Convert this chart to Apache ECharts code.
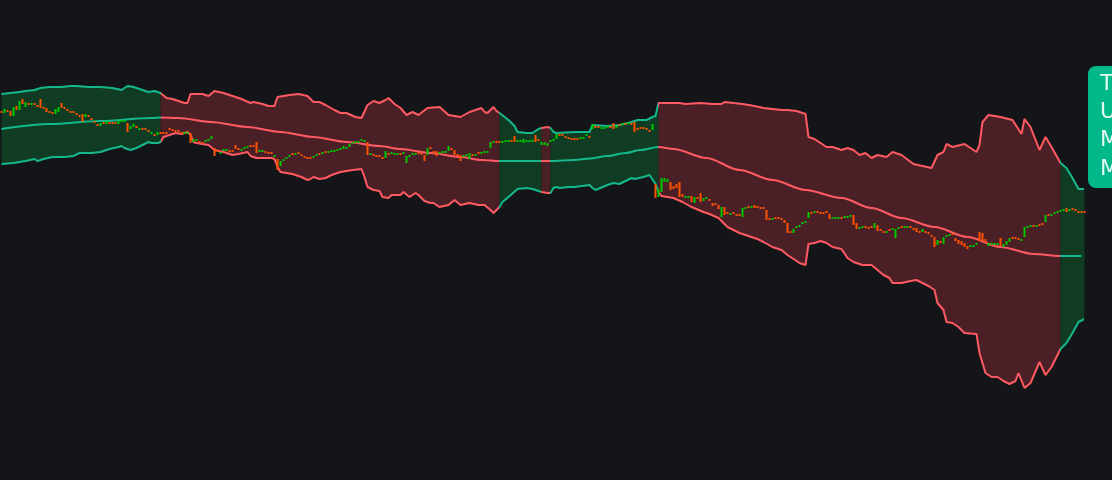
<!DOCTYPE html>
<html><head><meta charset="utf-8">
<script src="https://cdn.jsdelivr.net/npm/echarts@6/dist/echarts.min.js"></script>
<style>html,body{margin:0;padding:0;background:#141519;overflow:hidden}#chart{width:1112px;height:480px}</style>
</head><body><div id="chart"></div>
<script>
// candle opens / closes (price units)
const opens = [
289,287,290,289,284,294,290,301,293,297,
295,297,295,301,293,292,289,288,286,288,
297,293,291,289,289,287,285,286,283,285,
282,279,276,274,278,276,278,278,278,276,
278,278,277,271,273,274,270,272,272,270,
266,266,265,268,268,268,272,271,270,270,
268,266,266,267,258,259,259,258,258,259,
261,252,250,246,249,249,250,250,255,252,
249,251,252,255,255,258,248,248,249,248,
248,243,241,234,239,241,243,247,245,248,
246,244,243,243,242,244,247,246,249,247,
248,248,249,250,251,251,253,256,257,257,
259,258,258,245,246,245,245,243,242,247,
246,245,245,247,246,237,243,245,245,248,
247,245,245,253,249,249,246,247,247,249,
252,250,246,245,243,244,241,246,244,248,
246,247,247,252,257,259,259,257,258,258,
260,264,258,258,257,258,258,258,265,261,
255,255,254,258,259,261,266,266,264,263,
262,262,262,261,261,264,264,271,274,274,
271,271,272,274,277,272,276,275,277,276,
277,278,272,273,273,272,270,270,216,203,
208,218,218,218,214,216,218,206,202,202,
204,197,203,207,199,201,201,197,197,195,
183,193,188,185,188,186,186,183,191,194,
192,195,194,193,193,190,182,180,183,183,
182,180,177,169,167,172,173,176,177,182,
188,187,189,188,188,189,186,181,181,181,
183,182,182,183,185,177,171,172,174,173,
174,172,175,171,169,167,171,170,162,171,
174,172,172,174,172,172,169,168,169,168,
165,163,155,159,156,163,164,167,162,160,
159,157,154,153,153,155,168,167,161,154,
155,155,155,162,153,155,158,163,163,162,
159,163,172,173,175,173,176,177,178,186,
184,186,187,188,189,192,189,192,191,189,
189,189
];
const closes = [
287,291,288,284,293,290,299,296,298,295,
297,295,293,292,291,288,287,286,291,293,
292,291,289,287,287,285,283,278,286,283,
280,277,274,277,276,279,276,276,276,279,
280,280,268,274,276,272,272,270,270,268,
268,264,268,266,266,266,270,269,268,268,
266,268,268,257,261,261,257,256,260,261,
264,244,248,248,251,251,248,248,251,250,
251,253,254,253,253,247,250,250,247,246,
246,245,230,239,241,243,245,245,247,246,
244,242,241,241,244,246,245,248,247,249,
250,250,251,252,254,253,256,258,259,259,
261,260,245,247,244,243,243,241,249,245,
248,247,247,245,248,244,245,247,247,246,
245,239,252,251,247,244,248,249,249,254,
250,245,244,239,245,246,247,244,246,246,
248,249,249,258,259,257,257,259,260,260,
258,258,260,260,261,260,260,260,258,259,
258,258,257,260,261,266,264,264,262,261,
260,260,260,263,263,266,262,276,272,272,
273,273,274,272,271,274,274,277,275,278,
275,268,270,271,271,270,268,276,202,211,
222,222,221,210,211,212,203,203,204,204,
198,203,201,198,202,203,199,194,195,191,
193,185,186,187,186,184,184,192,193,192,
194,192,192,191,191,180,180,182,181,181,
180,177,167,167,171,174,175,178,179,188,
186,189,187,186,186,187,181,183,183,183,
181,184,184,185,175,171,173,174,172,171,
172,177,169,169,167,169,169,172,171,173,
172,174,174,172,170,168,167,171,167,166,
163,153,160,157,163,165,166,165,159,156,
155,153,151,155,155,157,159,159,157,157,
157,157,157,154,156,159,162,161,161,160,
161,173,174,175,173,175,174,175,185,184,
186,188,189,190,191,188,191,190,189,187,
187,187
];
// band vertices: [candle index, price]
const upperBand = [
[0,306],[3,307],[6,308],[8,309],[11,310],[13,312],[16,313],[20,313],[23,314],[25,314],[29,313],[33,313],[37,312],[40,310],[42,314],[44,313],[46,311],[49,308],[51,309],[53,307],
[55,302],[57,301],[61,297],[62,297],[63,306],[67,306],[69,304],[71,309],[74,307],[77,304],[80,301],[83,297],[84,298],[87,296],[89,294],[91,294],[92,303],[94,304],[96,305],[99,306],[102,304],[104,298],[106,298],[108,295],[111,290],[113,287],[115,287],[118,283],[120,282],[122,295],[124,299],[126,297],[128,300],[129,302],[131,296],[133,292],[135,285],[137,288],[139,285],[142,292],[146,293],[149,285],[153,283],[156,288],[160,292],[161,288],[162,287],[164,293],[165,289],[166,287],
[169,280],[171,274],[172,268],[175,267],[177,267],[179,271],[180,272],
[182,273],[183,272],
[184,268],[185,267],[191,268],[196,268],[197,275],[202,274],[206,275],[210,278],[212,280],[215,280],[217,283],[218,284],[219,297],
[222,297],[226,297],[228,296],[233,297],[237,296],[240,296],[241,298],[244,297],[247,296],[251,294],[254,292],[257,291],[260,290],[262,290],[265,289],[267,287],[268,286],[269,263],[271,261],[273,257],[275,253],[277,253],[280,250],[282,252],[284,250],[286,245],[288,247],[290,242],[292,245],[295,243],[297,248],[300,245],[304,236],[307,234],[310,232],[312,245],[314,248],[315,256],[317,253],[321,256],[325,248],[326,255],[327,278],[329,285],[333,283],[337,280],[340,266],[341,281],[343,273],[346,250],[348,263],[350,253],[353,237],
[355,232],[357,222],[359,211],[361,211]
];
const lowerBand = [
[0,236],[4,237],[8,239],[11,241],[12,239],[14,241],[17,243],[21,243],[24,244],[26,247],[30,247],[33,248],[36,251],[39,253],[40,254],[41,252],[43,250],[45,252],[47,255],[49,258],[50,257],[52,257],[53,258],
[54,263],[56,265],[58,267],[60,266],[62,268],[63,265],[64,258],[65,257],[67,256],[69,255],[71,250],[74,248],[77,245],[79,246],[82,248],[83,244],[85,242],[90,242],[91,241],[92,233],[93,228],[95,227],[97,226],[98,225],[100,223],[102,220],[103,221],[104,223],[106,221],[108,222],[110,225],[113,228],[115,229],[117,230],[120,231],[121,223],[122,213],[124,210],[126,209],[127,203],[129,202],[130,205],[133,205],[134,208],[136,203],[138,207],[139,205],[141,199],[143,197],[144,197],[146,193],[149,195],[151,200],[153,195],[156,197],[159,195],[161,195],[163,190],[164,187],[165,190],[166,193],
[167,198],[169,203],[172,211],[175,212],[177,211],[179,209],[180,208],
[182,207],[183,207],
[184,212],[185,213],[186,212],[189,213],[191,213],[196,215],[197,212],[198,210],[202,215],[204,217],[206,216],[210,222],[211,221],[214,223],[216,225],[218,216],[219,208],
[220,204],[224,202],[227,198],[230,193],[234,188],[236,186],[239,182],[240,179],[242,173],[244,170],[246,167],[250,163],[252,161],[254,158],[257,153],[260,150],[262,145],[264,141],[266,137],[268,135],[269,156],[271,157],[273,159],[275,157],[277,153],[280,151],[282,142],[284,138],[287,135],[290,135],[292,130],[294,125],[296,122],[297,117],[300,117],[303,119],[305,120],[307,117],[309,114],[311,110],[312,97],[314,90],[315,78],[317,77],[319,73],[321,67],[325,66],[326,47],[328,27],[330,23],[332,23],[334,19],[336,16],[338,19],[339,27],[341,12],[343,17],[346,38],[348,25],[350,33],[353,51],
[355,57],[357,67],[359,78],[361,81]
];
const middleBand = [
[0,271],[16,276],[33,279],[50,282],[53,282.5],
[59,282],[70,278],[82,273],[93,268],[104,263],[115,258],[126,254],[133,251],[143,247],[153,243],[160,240],[166,239],
[180,239],[183,239],
[191,240],[196,241.5],[202,244],[208,247],[213,250],[219,253],
[224,251],[235,242],[246,230],[257,220],[268,210],[280,202],[290,192],[300,182],[311,173],[322,163],[333,153],[344,146],[353,144],
[360,144]
];
// trend segments: [start index, end index, 1 = up / 0 = down]
const trendSegments = [[0,53,1],[53,166,0],[166,180,1],[180,183,0],[183,219,1],[219,353,0],[353,361,1]];
const labelLines = ['Trend: Up', 'Upper: 211', 'Middle: 144', 'Min: 81'];

const UP_LINE = '#14b88c', DOWN_LINE = '#ff5a62';
const UP_FILL = '#0f3c23', DOWN_FILL = '#4a1f26';

const categories = closes.map((_, i) => String(i));
const candles = closes.map((c, i) => [opens[i], c, Math.min(opens[i], c), Math.max(opens[i], c)]);
const pieces = trendSegments.map((s, k) => {
  const p = { lte: s[1], color: s[2] ? UP_LINE : DOWN_LINE };
  if (k > 0) p.gt = s[0];
  return p;
});

const chart = echarts.init(document.getElementById('chart'), null, { renderer: 'canvas' });
chart.setOption({
  animation: false,
  backgroundColor: '#141519',
  grid: { left: 0, right: 26, top: 0, bottom: 0 },
  xAxis: { type: 'category', data: categories, boundaryGap: true, show: false },
  yAxis: { type: 'value', min: -80, max: 400, show: false, splitLine: { show: false } },
  visualMap: { type: 'piecewise', show: false, dimension: 0, seriesIndex: [1, 2, 3], pieces: pieces },
  series: [
    {
      type: 'custom', z: 1, silent: true,
      data: trendSegments,
      encode: { x: [0, 1], y: 2 },
      renderItem: function (params, api) {
        const s = api.value(0), e = api.value(1), up = api.value(2) === 1;
        const top = upperBand.filter(p => p[0] >= s && p[0] <= e).map(p => api.coord(p));
        const bot = lowerBand.filter(p => p[0] >= s && p[0] <= e).reverse().map(p => api.coord(p));
        return { type: 'polygon', shape: { points: top.concat(bot) }, style: { fill: up ? UP_FILL : DOWN_FILL } };
      }
    },
    { type: 'line', z: 2, silent: true, data: upperBand, showSymbol: false, lineStyle: { width: 2 } },
    { type: 'line', z: 2, silent: true, data: lowerBand, showSymbol: false, lineStyle: { width: 2 } },
    { type: 'line', z: 2, silent: true, data: middleBand, showSymbol: false, smooth: 0.3, smoothMonotone: 'x', lineStyle: { width: 2 } },
    {
      type: 'candlestick', z: 3, silent: true, data: candles, barWidth: 2,
      itemStyle: { color: '#00c800', color0: '#ff5200', borderColor: '#00c800', borderColor0: '#ff5a00', borderWidth: 0 }
    }
  ],
  graphic: [{
    type: 'group', x: 1088, y: 66, silent: true,
    children: [
      { type: 'rect', shape: { x: 0, y: 0, width: 160, height: 122, r: 8 }, style: { fill: '#00b88a' } }
    ].concat(labelLines.map((t, k) => ({
      type: 'text', x: 12, y: 18 + k * 28.3,
      style: { text: t, fill: '#e2f8f0', font: '22px "DejaVu Sans", sans-serif', verticalAlign: 'middle', align: 'left' }
    })))
  }]
});
</script>
</body></html>
